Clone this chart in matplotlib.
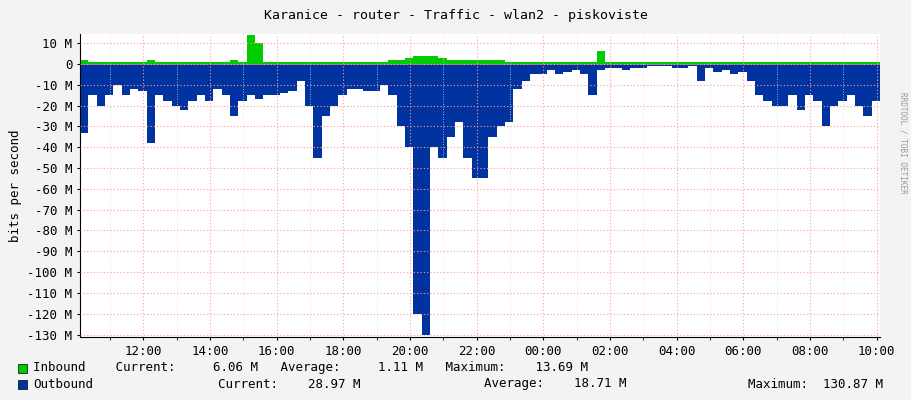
import numpy as np
from matplotlib import pyplot as plt

# time in hours since midnight of first day, 15 min steps
start_hour = 10.1
outbound = [-33, -15, -20, -15, -10, -15, -12, -13, -38, -15, -18, -20, -22, -18, -15, -18,
            -12, -15, -25, -18, -15, -17, -15, -15, -14, -13, -8, -20, -45, -25, -20, -15,
            -12, -12, -13, -13, -10, -15, -30, -40, -120, -130, -40, -45, -35, -28, -45, -55,
            -55, -35, -30, -28, -12, -8, -5, -5, -3, -5, -4, -3, -5, -15, -3, -2,
            -2, -3, -2, -2, -1, -1, -1, -2, -2, -1, -8, -2, -4, -3, -5, -4,
            -8, -15, -18, -20, -20, -15, -22, -15, -18, -30, -20, -18, -15, -20, -25, -18, -28]
inbound = [2, 1, 1, 1, 1, 1, 1, 1, 2, 1, 1, 1, 1, 1, 1, 1,
           1, 1, 2, 1, 13.7, 10, 1, 1, 1, 1, 1, 1, 1, 1, 1, 1,
           1, 1, 1, 1, 1, 2, 2, 3, 4, 4, 4, 3, 2, 2, 2, 2,
           2, 2, 2, 1, 1, 1, 1, 1, 1, 1, 1, 1, 1, 1, 6, 1,
           1, 1, 1, 1, 1, 1, 1, 1, 1, 1, 1, 1, 1, 1, 1, 1,
           1, 1, 1, 1, 1, 1, 1, 1, 1, 1, 1, 1, 1, 1, 1, 1, 6.06]
hours = start_hour + 0.25 * np.arange(len(outbound))
tick_hours = np.arange(12, 35, 2)
tick_labels = ['%02d:00' % (h % 24) for h in tick_hours]

mono = 'DejaVu Sans Mono'
plt.rcParams['font.family'] = mono
plt.rcParams['font.size'] = 8

W, H = 911, 400
fig = plt.figure(figsize=(W / 100, H / 100), dpi=100, facecolor='#F3F3F3')
ax = fig.add_axes([80 / W, 1 - 337 / H, 800 / W, 303 / H])
ax.set_facecolor('white')

ax.fill_between(hours, 0, outbound, step='post', color='#0033A0', lw=0)
ax.fill_between(hours, 0, inbound, step='post', color='#00CC00', lw=0)

ax.set_xlim(hours[0], hours[0] + 24)
ax.set_ylim(-131.2, 14.4)
ax.set_yticks(np.arange(-130, 11, 10))
ax.set_yticklabels(['0' if v == 0 else '%d M' % v for v in range(-130, 11, 10)])
ax.set_xticks(tick_hours)
ax.set_xticklabels(tick_labels, fontsize=9)
ax.set_xticks(np.arange(11, 35, 1), minor=True)
ax.grid(True, which='major', color='#FF9999', ls=(0, (1, 2)), lw=0.8)
ax.grid(True, which='minor', axis='x', color='#DDDDDD', ls=(0, (1, 2)), lw=0.6)
ax.set_axisbelow(False)
ax.axhline(0, color='#888888', lw=0.6)
for s in ['top', 'right']:
    ax.spines[s].set_visible(False)
ax.tick_params(length=2, labelsize=9)
ax.set_ylabel('bits per second', fontsize=9)

fig.text(0.5, 1 - 15 / H, 'Karanice - router - Traffic - wlan2 - piskoviste', ha='center', va='center', fontsize=9.5)
fig.text(903 / W, 0.5 + 0.27, 'RRDTOOL / TOBI OETIKER', rotation=270, ha='center', va='top', fontsize=5.5, color='#999999')

fig.patches.append(plt.Rectangle((18 / W, 1 - 373 / H), 9 / W, 9 / H, transform=fig.transFigure, fc='#00CC00', ec='black', lw=0.5))
fig.patches.append(plt.Rectangle((18 / W, 1 - 389 / H), 9 / W, 9 / H, transform=fig.transFigure, fc='#0033A0', ec='black', lw=0.5))
fig.text(33 / W, 1 - 368 / H, 'Inbound    Current:     6.06 M   Average:     1.11 M   Maximum:    13.69 M', va='center', fontsize=9)
fig.text(33 / W, 1 - 384 / H, 'Outbound', va='center', fontsize=9)
fig.text(218 / W, 1 - 384 / H, 'Current:    28.97 M', va='center', fontsize=9)
fig.text(484 / W, 1 - 384 / H, 'Average:    18.71 M', va='center', fontsize=9)
fig.text(748 / W, 1 - 384 / H, 'Maximum:  130.87 M', va='center', fontsize=9)

fig.savefig('out.png', dpi=100, facecolor=fig.get_facecolor())
